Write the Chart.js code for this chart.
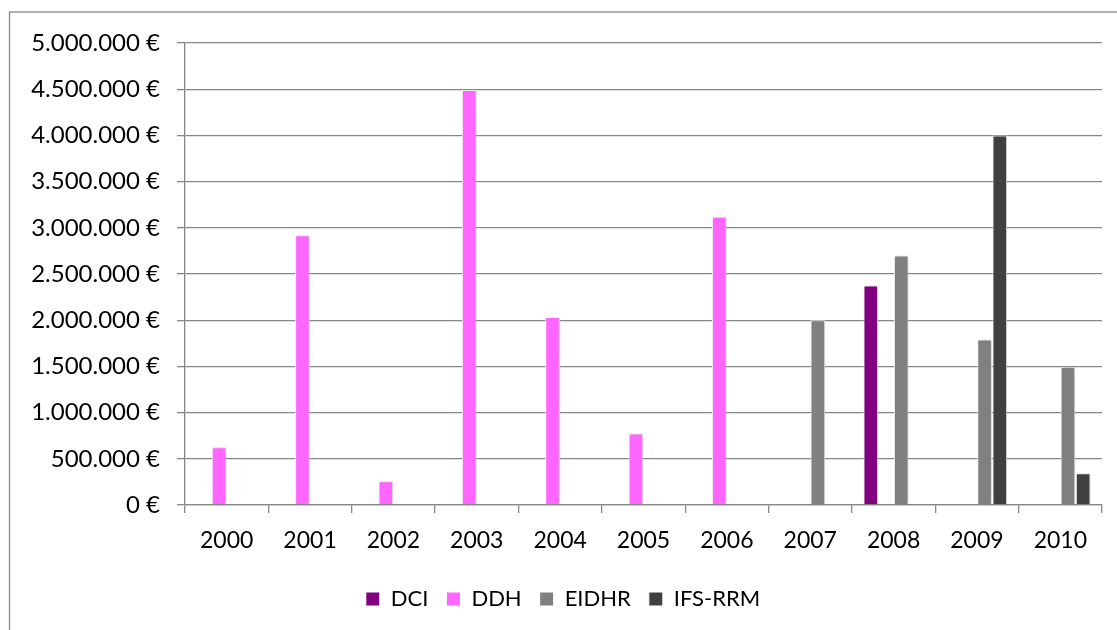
<!DOCTYPE html>
<html>
<head>
<meta charset="utf-8">
<script src="https://cdn.jsdelivr.net/npm/chart.js@4"></script>
<style>
  html, body { margin: 0; padding: 0; background: #fff; }
  #wrap { width: 1117px; height: 630px; }
</style>
</head>
<body>
<div id="wrap"><canvas id="fundsChart" width="1117" height="630"></canvas></div>
<script>
const years = ['2000', '2001', '2002', '2003', '2004', '2005', '2006', '2007', '2008', '2009', '2010'];

// amounts per instrument and year (EUR), null where nothing was funded
const dci    = [null, null, null, null, null, null, null, null, 2375000, null, null];
const ddh    = [625000, 2920000, 256000, 4490000, 2035000, 775000, 3120000, null, null, null, null];
const eidhr  = [null, null, null, null, null, null, null, 2000000, 2700000, 1790000, 1495000];
const ifsRrm = [null, null, null, null, null, null, null, null, null, 4000000, 343000];

const yTicksMax = 5000000;
const yStep = 500000;

const gridGrey = '#878787';
const fontName = 'Lato';

function euro(v) {
  return String(Math.round(v)).replace(/\B(?=(\d{3})+(?!\d))/g, '.') + ' €';
}

// frame around the whole chart, soft shadow behind the bars,
// and the legend nudged right so it sits under the plot area
const framePlugin = {
  id: 'frame',
  beforeDraw(chart) {
    const c = chart.ctx;
    c.save();
    c.fillStyle = '#fff';
    c.fillRect(0, 0, chart.width, chart.height);
    c.strokeStyle = '#8a8a8a';
    c.lineWidth = 1.3;
    c.strokeRect(9.5, 12, chart.width + 20, chart.height + 20);
    c.restore();
  },
  afterLayout(chart) {
    const lg = chart.legend;
    if (lg) {
      lg.left += 12;
      lg.right += 12;
    }
  },
  beforeDatasetsDraw(chart) {
    const c = chart.ctx;
    c.save();
    c.shadowColor = 'rgba(0,0,0,0.22)';
    c.shadowBlur = 4;
    c.shadowOffsetX = 1.5;
    c.shadowOffsetY = 0;
  },
  afterDatasetsDraw(chart) {
    chart.ctx.restore();
  }
};

const ctx = document.getElementById('fundsChart').getContext('2d');

const barOpts = {
  borderColor: '#ffffff',
  borderWidth: 1,
  categoryPercentage: 0.73,
  barPercentage: 0.96
};

new Chart(ctx, {
  type: 'bar',
  data: {
    labels: years,
    datasets: [
      Object.assign({ label: 'DCI', data: dci, backgroundColor: '#800080' }, barOpts),
      Object.assign({ label: 'DDH', data: ddh, backgroundColor: '#ff66ff' }, barOpts),
      Object.assign({ label: 'EIDHR', data: eidhr, backgroundColor: '#808080' }, barOpts),
      Object.assign({ label: 'IFS-RRM', data: ifsRrm, backgroundColor: '#404040' }, barOpts)
    ]
  },
  options: {
    responsive: false,
    animation: false,
    devicePixelRatio: 1,
    layout: { padding: { top: 43, right: 15, bottom: 10, left: 0 } },
    plugins: {
      legend: {
        position: 'bottom',
        labels: {
          boxWidth: 14,
          boxHeight: 14,
          padding: 18,
          color: '#000',
          font: { family: fontName, size: 22 }
        }
      },
      tooltip: { enabled: false }
    },
    scales: {
      x: {
        grid: {
          drawOnChartArea: false,
          drawTicks: true,
          tickLength: 8,
          color: gridGrey,
          lineWidth: 1.3
        },
        border: { color: gridGrey, width: 1.3 },
        ticks: {
          color: '#000',
          padding: 14,
          maxRotation: 0,
          font: { family: fontName, size: 23 }
        },
        afterFit(scale) { scale.height = 65; }
      },
      y: {
        min: 0,
        max: yTicksMax,
        grid: {
          color: gridGrey,
          lineWidth: 1.3,
          tickLength: 8
        },
        border: { color: gridGrey, width: 1.3 },
        ticks: {
          stepSize: yStep,
          color: '#000',
          padding: 17,
          font: { family: fontName, size: 24 },
          callback: (v) => euro(v)
        },
        afterFit(scale) { scale.width = 185; }
      }
    }
  },
  plugins: [framePlugin]
});
</script>
</body>
</html>
